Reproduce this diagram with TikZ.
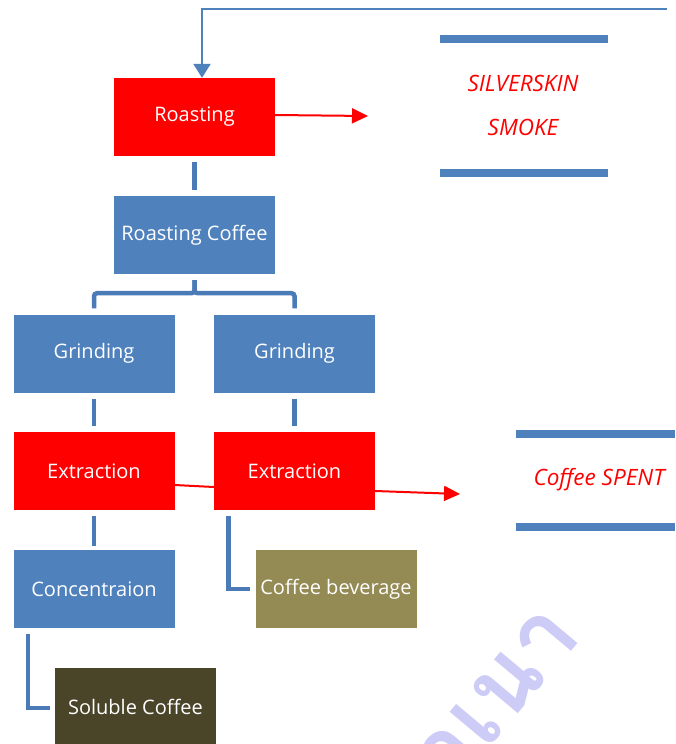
\documentclass[tikz,border=0pt]{standalone}
\usepackage{fontspec}
\setmainfont{Open Sans}
\newfontfamily\thaifont[Script=Thai]{Loma}
\usetikzlibrary{arrows.meta}
\definecolor{boxblue}{HTML}{4F81BD}
\definecolor{lineblue}{HTML}{4A7BB7}
\definecolor{boxred}{HTML}{FF0000}
\definecolor{olive}{HTML}{948A54}
\definecolor{darkolive}{HTML}{4A4429}
\definecolor{wmark}{HTML}{CCCCF7}
\tikzset{
  box/.style={rectangle, inner sep=0pt, minimum width=161pt, minimum height=78pt,
    text=white, font=\fontsize{20}{22}\selectfont},
  bluebox/.style={box, fill=boxblue},
  redbox/.style={box, fill=boxred},
  conn/.style={draw=lineblue, line width=4.5pt},
  bar/.style={fill=boxblue, draw=none},
  outlbl/.style={text=boxred, font=\fontsize{22.5}{24}\selectfont\itshape, inner sep=0pt},
  redarrow/.style={draw=boxred, line width=2pt, -{Triangle[length=16pt,width=15pt]}},
}
\begin{document}
\begin{tikzpicture}[x=1pt,y=1pt]
\useasboundingbox (0,0) rectangle (675,-744);
\begin{scope}
\clip (0,0) rectangle (675,-744);
\node[rotate=50, text=wmark, font=\thaifont\bfseries\fontsize{95}{100}\selectfont, anchor=center] (wm) at (470,-712) {สำเนา};
\end{scope}
% boxes
\node[redbox] (roast) at (194.5,-117) {Roasting};
\node[bluebox] (rc) at (194.5,-235) {Roasting Coffee};
\node[bluebox] (g1) at (94,-353.5) {Grinding};
\node[bluebox] (g2) at (294.5,-353.5) {Grinding};
\node[redbox] (e1) at (94,-471) {Extraction};
\node[redbox] (e2) at (294.5,-471) {Extraction};
\node[bluebox] (conc) at (94,-589) {Concentraion};
\node[box, fill=olive] (bev) at (336,-589) {Coffee beverage};
\node[box, fill=darkolive, minimum height=77pt] (sol) at (135.5,-706.5) {Soluble Coffee};
% output labels
\node[outlbl] (silver) at (523,-83) {SILVERSKIN};
\node[outlbl] (smoke) at (523,-127) {SMOKE};
\node[outlbl] (spent) at (599,-480) {Coffee SPENT};
\fill[bar] (440,-35) rectangle (608,-43);
\fill[bar] (440,-169) rectangle (608,-177);
\fill[bar] (516,-430) rectangle (675,-438);
\fill[bar] (516,-523) rectangle (675,-531);
% connectors
\draw[conn] ([yshift=-6pt]roast.south) -- ([yshift=6pt]rc.north);
\draw[conn, rounded corners=3pt] ([yshift=-6pt]rc.south) -- ++(0,-13) -| ([yshift=6pt]g1.north);
\draw[conn, rounded corners=3pt] ([yshift=-6pt]rc.south) -- ++(0,-13) -| ([yshift=6pt]g2.north);
\draw[conn] ([yshift=-6pt]g1.south) -- ([yshift=6pt]e1.north);
\draw[conn] ([yshift=-6pt]g2.south) -- ([yshift=6pt]e2.north);
\draw[conn] ([yshift=-6pt]e1.south) -- ([yshift=4pt]conc.north);
\coordinate (e2d) at ([xshift=-66pt,yshift=-6pt]e2.south);
\draw[conn] (e2d) |- ([xshift=-5pt]bev.west);
\coordinate (concd) at ([xshift=-66pt,yshift=-6pt]conc.south);
\draw[conn] (concd) |- ([xshift=-5pt,yshift=-1.5pt]sol.west);
% top feedback arrow
\coordinate (topR) at (667,-9);
\draw[draw=boxblue, line width=2.5pt, -{Triangle[length=14pt,width=17pt]}] (topR) -| ([xshift=7.5pt]roast.north);
% red arrows
\coordinate (smokeTip) at (368,-116);
\draw[redarrow] ([yshift=2pt]roast.east) -- (smokeTip);
\draw[draw=boxred, line width=2pt] ([yshift=-14pt]e1.east) -- ([yshift=-16pt]e2.west);
\coordinate (spentTip) at (460,-494);
\draw[redarrow] ([yshift=-20pt]e2.east) -- (spentTip);
\end{tikzpicture}
\end{document}
